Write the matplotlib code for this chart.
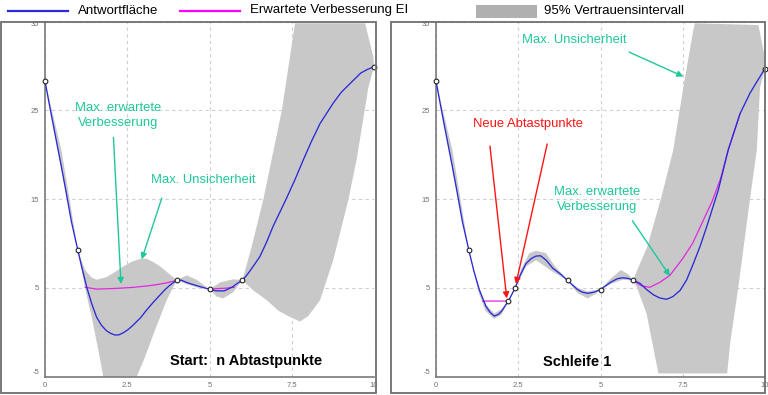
import matplotlib
matplotlib.use('Agg')
import matplotlib.pyplot as plt
import numpy as np
from matplotlib.lines import Line2D
from matplotlib.patches import Rectangle

plt.rcParams['font.family'] = ['Liberation Sans', 'DejaVu Sans']
plt.rcParams['axes.unicode_minus'] = False

W, H = 768, 395
C_MEAN = '#2a2ad6'; C_EI = '#e028e0'; C_BAND = '#c8c8c8'; C_LEG_BAND = '#b0b0b0'
C_TEAL = '#1fc79a'; C_RED = '#ff1414'; C_FRAME = '#6e6e6e'; C_GRID = '#cfcfcf'

# ---- left panel: start, n sample points ----
l_pts_x = [0, 1, 4, 5, 6, 10]
l_pts_y = [28.3, 9.2, 5.83, 4.82, 5.85, 29.9]
l_mean_x = [0, 0.15, 0.3, 0.5, 0.66, 0.8, 1.0, 1.1, 1.27, 1.42, 1.57, 1.72, 1.87, 2.0, 2.13, 2.25,
            2.38, 2.53, 2.68, 2.9, 3.09, 3.3, 3.5, 3.65, 3.8, 4.0, 4.15, 4.3, 4.6, 5.0, 5.2, 5.45,
            5.7, 5.85, 6.0, 6.12, 6.25, 6.53, 6.73, 6.93, 7.33, 7.6, 7.85, 8.1, 8.36, 8.76, 9.0,
            9.27, 9.6, 9.8, 10]
l_mean_y = [28.3, 25.3, 22.4, 18.6, 15.4, 12.5, 9.2, 7.6, 5.05, 3.2, 1.67, 0.75, 0.15, -0.15, -0.33,
            -0.3, -0.07, 0.3, 0.8, 1.6, 2.5, 3.4, 4.2, 4.8, 5.3, 5.83, 5.85, 5.6, 5.25, 4.82, 4.65,
            4.65, 5.1, 5.5, 5.85, 6.35, 7.0, 8.5, 10.1, 11.9, 15.0, 17.2, 19.4, 21.5, 23.5, 25.8, 27.0,
            28.0, 29.2, 29.6, 29.9]
l_ei_x = [1.22, 1.57, 2.0, 2.28, 2.7, 3.09, 3.4, 3.7, 4.0, np.nan, 5.0, 5.22, 5.5, 5.75]
l_ei_y = [5.05, 4.85, 4.9, 4.95, 5.05, 5.2, 5.35, 5.55, 5.83, np.nan, 4.85, 4.9, 4.95, 5.05]
l_up_x = [0, 0.5, 0.8, 1.0, 1.22, 1.4, 1.57, 1.87, 2.1, 2.38, 2.65, 2.94, 3.1, 3.29, 3.5, 3.7, 4.0,
          4.31, 4.61, 5.0, 5.32, 5.72, 6.0, 6.28, 6.64, 7.2, 7.6, 9.73, 9.98, 10]
l_up_y = [28.3, 20.5, 13.8, 9.2, 7.0, 6.2, 5.9, 6.2, 6.7, 7.4, 7.95, 8.3, 8.25, 7.9, 7.4, 6.8, 5.85,
          6.4, 5.9, 4.82, 5.6, 5.95, 5.85, 9.6, 15.0, 25.0, 34.8, 34.8, 31.0, 29.9]
l_lo_x = [0, 0.5, 1.0, 1.22, 1.42, 1.62, 1.77, 2.0, 2.3, 2.6, 2.79, 3.04, 3.34, 3.7, 4.0, 4.3,
          4.6, 5.0, 5.22, 5.42, 5.72, 6.0, 6.33, 6.74, 7.1, 7.45, 7.75, 8.0, 8.36, 8.76, 9.22,
          9.47, 9.83, 10]
l_lo_y = [28.3, 18.3, 9.2, 4.9, 1.7, -2.0, -5.0, -6.5, -6.8, -6.0, -5.0, -2.8, 0.2, 3.6, 5.83, 5.4,
          5.05, 4.82, 4.0, 3.8, 4.5, 5.85, 4.7, 3.6, 2.4, 1.7, 1.2, 1.8, 3.6, 8.1, 14.9,
          19.4, 27.6, 29.9]

# ---- right panel: loop 1 ----
r_pts_x = [0, 1, 2.2, 2.4, 4, 5, 6, 10]
r_pts_y = [28.3, 9.2, 3.5, 4.93, 5.82, 4.8, 5.82, 29.7]
r_mean_x = [0, 0.15, 0.3, 0.5, 0.66, 0.8, 1.0, 1.15, 1.32, 1.52, 1.65, 1.77, 1.9, 2.0, 2.2, 2.4,
            2.57, 2.74, 2.9, 3.04, 3.18, 3.35, 3.55, 3.8, 4.0, 4.3, 4.45, 4.61, 4.8, 5.0, 5.3, 5.5,
            5.67, 5.85, 6.0, 6.2, 6.4, 6.61, 6.8, 7.01, 7.2, 7.42, 7.62, 7.82, 8.03, 8.23, 8.58,
            8.88, 9.24, 9.54, 9.75, 10]
r_mean_y = [28.3, 25.3, 22.4, 18.6, 15.4, 12.5, 9.2, 6.9, 4.74, 2.9, 2.2, 1.81, 2.0, 2.4, 3.5, 4.93,
            6.5, 7.75, 8.3, 8.57, 8.6, 8.1, 7.2, 6.5, 5.82, 4.8, 4.5, 4.37, 4.5, 4.8, 5.6, 6.0,
            6.13, 6.05, 5.82, 5.5, 4.8, 4.2, 3.85, 3.7, 4.0, 4.7, 5.9, 7.7, 9.7, 11.9, 16.0,
            20.5, 24.6, 26.9, 28.2, 29.7]
r_ei_x = [1.42, 2.21, np.nan, 6.0, 6.25, 6.5, 6.8, 7.11, 7.5, 7.8, 8.1, 8.4, 8.65, 8.88, 9.24]
r_ei_y = [3.5, 3.5, np.nan, 5.82, 5.2, 5.05, 5.6, 6.4, 8.3, 10.0, 12.4, 14.8, 17.3, 20.5, 24.6]
r_up_x = [0, 0.5, 1.0, 1.3, 1.5, 1.77, 2.0, 2.2, 2.4, 2.6, 2.84, 3.04, 3.34, 3.6, 4.0, 4.3, 4.6,
          5.0, 5.3, 5.62, 5.85, 6.0, 6.07, 6.42, 6.85, 7.21, 7.52, 7.82, 7.87, 9.8, 9.97, 10]
r_up_y = [28.3, 20.5, 9.2, 5.0, 3.2, 2.1, 2.6, 3.5, 4.93, 7.2, 8.9, 9.17, 8.9, 7.5, 5.82, 5.0, 4.6,
          4.8, 6.0, 7.0, 6.5, 5.82, 6.6, 9.6, 15.2, 20.5, 27.6, 34.0, 34.8, 34.6, 31.4, 29.7]
r_lo_x = [0, 0.5, 1.0, 1.3, 1.5, 1.77, 2.0, 2.2, 2.4, 2.74, 3.04, 3.55, 4.0, 4.3, 4.61, 4.85, 5.0,
          5.3, 5.67, 6.0, 6.12, 6.4, 6.66, 6.76, 8.85, 8.94, 9.19, 9.54, 9.75, 9.85, 10]
r_lo_y = [28.3, 18.3, 9.2, 4.4, 2.4, 1.5, 2.0, 3.5, 4.93, 7.4, 8.1, 6.8, 5.82, 4.4, 3.8, 4.3, 4.8,
          5.4, 5.9, 5.82, 4.9, 2.1, -2.8, -4.65, -4.65, -1.3, 5.1, 14.9, 20.5, 27.6, 29.7]

x_ticks = [0, 2.5, 5, 7.5, 10]
x_labels = ['0', '2.5', '5', '7.5', '10']
y_ticks = [-5, 5, 15, 25, 35]
y_labels = ['-5', '5', '15', '25', '35']

fig = plt.figure(figsize=(W / 100, H / 100), dpi=100)

def px_axes(l, t, r, b):
    return fig.add_axes([l / W, (H - b) / H, (r - l) / W, (b - t) / H])

def frame(l, t, r, b):
    fig.add_artist(Rectangle((l / W, (H - b) / H), (r - l) / W, (b - t) / H, transform=fig.transFigure,
                             fill=False, edgecolor=C_FRAME, lw=1.3, zorder=10))

def panel(ax, mx, my, ex, ey, ux, uy, lx, ly, px, py):
    ax.set_xlim(0, 10); ax.set_ylim(-5, 35)
    ax.set_xticks(x_ticks); ax.set_xticklabels(x_labels)
    ax.set_yticks(y_ticks); ax.set_yticklabels(y_labels)
    labs = ax.get_yticklabels(); labs[-1].set_va('top'); labs[0].set_va('bottom')
    ax.tick_params(length=0, labelsize=5.5, labelcolor='#707070', pad=4)
    ax.grid(True, color=C_GRID, lw=0.8, ls=(0, (3, 3))); ax.set_axisbelow(True)
    for sp in ['top', 'right']: ax.spines[sp].set_visible(False)
    for sp in ['left', 'bottom']:
        ax.spines[sp].set_color('#7a7a7a'); ax.spines[sp].set_linewidth(1.2)
    ax.fill(list(ux) + list(lx)[::-1], list(uy) + list(ly)[::-1], color=C_BAND, lw=0, zorder=1)
    ax.plot(ex, ey, color=C_EI, lw=0.9, zorder=3)
    ax.plot(mx, my, color=C_MEAN, lw=0.95, zorder=4)
    ax.plot(px, py, 'o', ms=3.4, mfc='white', mec='#222222', mew=0.8, zorder=5, clip_on=False)

def arrow(ax, start, tip, col):
    ax.annotate('', xy=tip, xytext=start,
                arrowprops=dict(arrowstyle='-|>', color=col, lw=1.0, mutation_scale=9,
                                shrinkA=0, shrinkB=0), zorder=6)

axL = px_axes(45, 21.5, 374, 376.5)
axR = px_axes(436, 21.5, 765, 376.5)
panel(axL, l_mean_x, l_mean_y, l_ei_x, l_ei_y, l_up_x, l_up_y, l_lo_x, l_lo_y, l_pts_x, l_pts_y)
panel(axR, r_mean_x, r_mean_y, r_ei_x, r_ei_y, r_up_x, r_up_y, r_lo_x, r_lo_y, r_pts_x, r_pts_y)
frame(1, 22, 376, 393)
frame(391, 22, 765, 393)

FS = 9.4
# left annotations
axL.text(2.22, 24.4, 'Max. erwartete\nVerbesserung', color=C_TEAL, fontsize=FS, ha='center',
         va='center', linespacing=1.3)
arrow(axL, (2.08, 21.95), (2.31, 5.42), C_TEAL)
axL.text(4.80, 17.1, 'Max. Unsicherheit', color=C_TEAL, fontsize=FS, ha='center', va='center')
arrow(axL, (3.55, 15.1), (2.94, 8.2), C_TEAL)
axL.text(6.11, -3.3, 'Start:  n Abtastpunkte', fontsize=10.5, fontweight='bold', ha='center',
         va='center', color='black')

# right annotations
axR.text(4.19, 32.9, 'Max. Unsicherheit', color=C_TEAL, fontsize=FS, ha='center', va='center')
arrow(axR, (5.87, 31.55), (7.52, 28.8), C_TEAL)
axR.text(2.79, 23.45, 'Neue Abtastpunkte', color=C_RED, fontsize=FS, ha='center', va='center')
arrow(axR, (1.64, 20.97), (2.15, 3.8), C_RED)
arrow(axR, (3.38, 21.2), (2.43, 5.42), C_RED)
axR.text(4.90, 14.94, 'Max. erwartete\nVerbesserung', color=C_TEAL, fontsize=FS, ha='center',
         va='center', linespacing=1.3)
arrow(axR, (5.97, 12.55), (7.11, 6.32), C_TEAL)
axR.text(4.29, -3.4, 'Schleife 1', fontsize=10.5, fontweight='bold', ha='center', va='center',
         color='black')

# legend along the top
ly = (H - 10.5) / H
fig.add_artist(Line2D([8 / W, 68 / W], [ly, ly], color=C_MEAN, lw=1.6, transform=fig.transFigure))
fig.text(78 / W, ly, 'Antwortfläche', fontsize=9.5, va='center', ha='left')
fig.add_artist(Line2D([180 / W, 240 / W], [ly, ly], color='#ff00ff', lw=1.6, transform=fig.transFigure))
fig.text(250 / W, ly, 'Erwartete Verbesserung EI', fontsize=9.5, va='center', ha='left')
fig.add_artist(Rectangle((476 / W, (H - 18) / H), 61 / W, 13 / H, transform=fig.transFigure,
                         color=C_LEG_BAND, lw=0))
fig.text(544 / W, ly, '95% Vertrauensintervall', fontsize=9.5, va='center', ha='left')

fig.savefig('out.png', dpi=100)
